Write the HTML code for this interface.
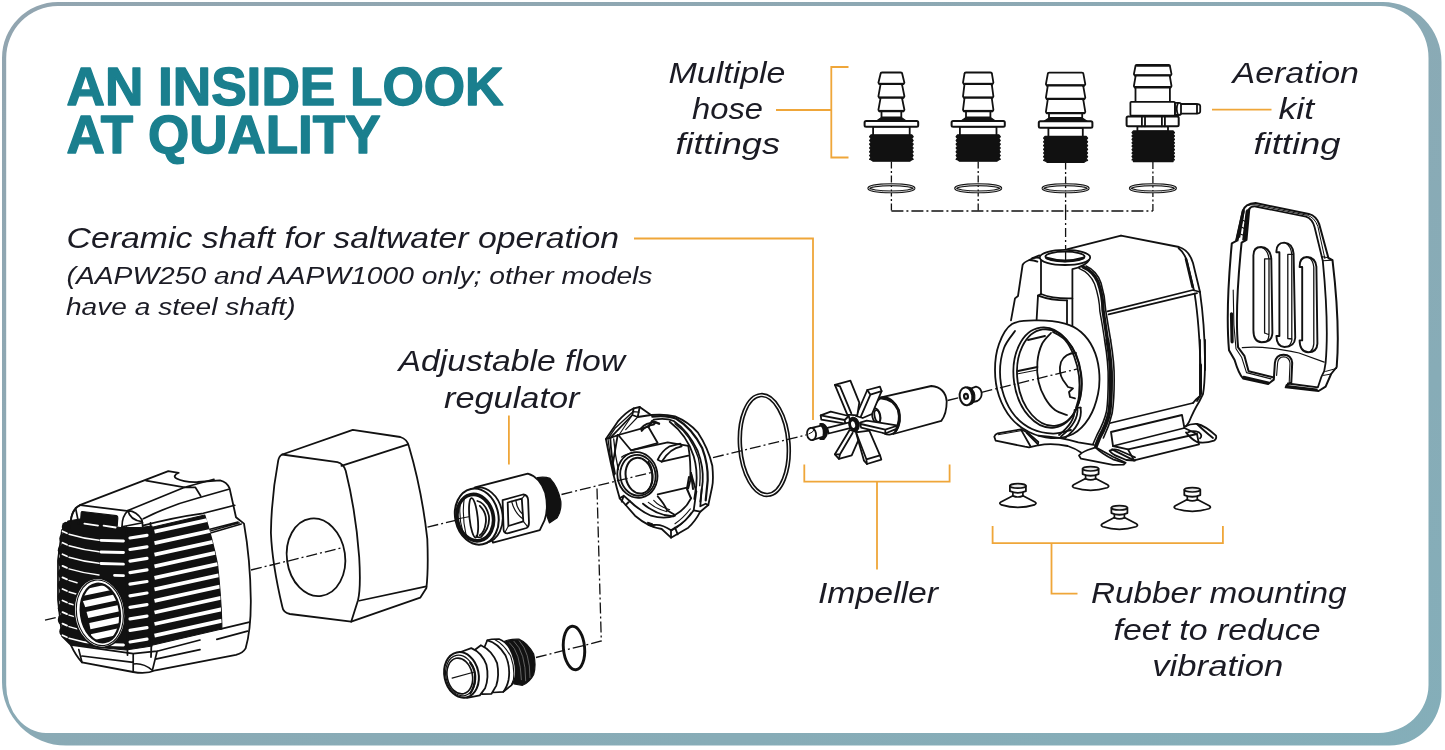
<!DOCTYPE html>
<html><head><meta charset="utf-8"><title>An Inside Look at Quality</title>
<style>
html,body{margin:0;padding:0;background:#fff;}
body{width:1445px;height:750px;overflow:hidden;font-family:"Liberation Sans",sans-serif;}
svg{display:block;position:absolute;left:0;top:0;will-change:transform;opacity:0.999;}
text{font-family:"Liberation Sans",sans-serif;}
.lbl{font-style:italic;fill:#1b1b24;}
.ttl{font-weight:bold;fill:#1a7f8e;}
.k{fill:none;stroke:#111;stroke-width:1.8;stroke-linecap:round;stroke-linejoin:round;}
.kw{fill:#fff;stroke:#111;stroke-width:1.8;stroke-linecap:round;stroke-linejoin:round;}
.kb{fill:#111;stroke:#111;stroke-width:1.2;stroke-linejoin:round;}
.o{fill:none;stroke:#efa639;stroke-width:1.8;}
.ax{fill:none;stroke:#111;stroke-width:1.3;stroke-dasharray:11 3 2 3;}
</style></head><body>
<svg width="1445" height="750" viewBox="0 0 1445 750">
<!-- frame -->
<defs>
<linearGradient id="fg" x1="0" y1="0" x2="1" y2="1"><stop offset="0" stop-color="#92a5b0"/><stop offset="0.5" stop-color="#8aaab5"/><stop offset="1" stop-color="#84aeb9"/></linearGradient>
</defs>
<rect x="0" y="0" width="1445" height="750" fill="#fff"/>
<path d="M58,2 H1383 A58.5,60 0 0 1 1441.5,62 V691.5 A52,54 0 0 1 1389.5,745.5 H66 A64,63.5 0 0 1 2,682 V58 A56,56 0 0 1 58,2 Z" fill="url(#fg)"/>
<path d="M58,6 H1380.5 A48,52 0 0 1 1428.5,58 V685 A50,48 0 0 1 1378.5,733 H46 A40,48 0 0 1 6.2,685 V58 A52,52 0 0 1 58,6 Z" fill="#fff"/>
<!-- text -->
<g class="ttl" font-size="54" stroke="#1a7f8e" stroke-width="1.4" stroke-linejoin="round">
<text x="66.5" y="104.5" textLength="437" lengthAdjust="spacingAndGlyphs">AN INSIDE LOOK</text>
<text x="66.5" y="152.6" textLength="314" lengthAdjust="spacingAndGlyphs">AT QUALITY</text>
</g>
<g class="lbl" font-size="29.7">
<text x="668.5" y="83" textLength="117" lengthAdjust="spacingAndGlyphs">Multiple</text>
<text x="692" y="119.3" textLength="71" lengthAdjust="spacingAndGlyphs">hose</text>
<text x="675.5" y="154.3" textLength="104.5" lengthAdjust="spacingAndGlyphs">fittings</text>
<text x="1232.5" y="83.3" textLength="126.5" lengthAdjust="spacingAndGlyphs">Aeration</text>
<text x="1278.5" y="119.3" textLength="35.5" lengthAdjust="spacingAndGlyphs">kit</text>
<text x="1253.5" y="154.3" textLength="87" lengthAdjust="spacingAndGlyphs">fitting</text>
<text x="66.5" y="248" textLength="552.5" lengthAdjust="spacingAndGlyphs">Ceramic shaft for saltwater operation</text>
<text x="398.5" y="371.3" textLength="226.5" lengthAdjust="spacingAndGlyphs">Adjustable flow</text>
<text x="444" y="407.5" textLength="135.5" lengthAdjust="spacingAndGlyphs">regulator</text>
<text x="818" y="603.4" textLength="120" lengthAdjust="spacingAndGlyphs">Impeller</text>
<text x="1091" y="603.4" textLength="255.5" lengthAdjust="spacingAndGlyphs">Rubber mounting</text>
<text x="1113.5" y="640" textLength="207" lengthAdjust="spacingAndGlyphs">feet to reduce</text>
<text x="1152.3" y="676.4" textLength="131" lengthAdjust="spacingAndGlyphs">vibration</text>
</g>
<g class="lbl" font-size="24.5">
<text x="66.5" y="284.2" textLength="586" lengthAdjust="spacingAndGlyphs">(AAPW250 and AAPW1000 only; other models</text>
<text x="66" y="314.6" textLength="229.5" lengthAdjust="spacingAndGlyphs">have a steel shaft)</text>
</g>
<!-- orange -->
<g class="o">
<path d="M776,110 H831.3 M848.5,67 H831.3 V157.5 H848.5"/>
<path d="M1212,109.6 H1271.5"/>
<path d="M634,238.5 H813 V420"/>
<path d="M508.9,415.5 V464.5"/>
<path d="M804.3,464.5 V481.7 H949.6 V464.5 M877,481.7 V569.5"/>
<path d="M992.6,526 V543.2 H1222.9 V526 M1051.5,543.2 V593.7 H1077.5"/>
</g>
<!-- fittings -->
<path class="ax" style="stroke-dasharray:7 2.5 2 2.5" d="M891.4,161.5 V211"/>
<path class="ax" style="stroke-dasharray:7 2.5 2 2.5" d="M978.2,161.5 V211"/>
<path class="ax" style="stroke-dasharray:7 2.5 2 2.5" d="M1065.6,162.5 V211"/>
<path class="ax" style="stroke-dasharray:7 2.5 2 2.5" d="M1152.9,162.0 V211"/>
<path class="ax" style="stroke-dasharray:12 3 2 3" d="M891.4,211 H1152.9"/>
<path class="ax" style="stroke-dasharray:9 3 2 3" d="M1065.6,211 V250"/>
<ellipse cx="891.4" cy="188.3" rx="22.6" ry="3.6" fill="none" stroke="#111" stroke-width="2.9"/><ellipse cx="891.4" cy="188.3" rx="22.6" ry="3.6" fill="none" stroke="#fff" stroke-width="0.8"/>
<ellipse cx="978.2" cy="188.3" rx="22.6" ry="3.6" fill="none" stroke="#111" stroke-width="2.9"/><ellipse cx="978.2" cy="188.3" rx="22.6" ry="3.6" fill="none" stroke="#fff" stroke-width="0.8"/>
<ellipse cx="1065.6" cy="188.3" rx="22.6" ry="3.6" fill="none" stroke="#111" stroke-width="2.9"/><ellipse cx="1065.6" cy="188.3" rx="22.6" ry="3.6" fill="none" stroke="#fff" stroke-width="0.8"/>
<ellipse cx="1152.9" cy="188.3" rx="22.6" ry="3.6" fill="none" stroke="#111" stroke-width="2.9"/><ellipse cx="1152.9" cy="188.3" rx="22.6" ry="3.6" fill="none" stroke="#fff" stroke-width="0.8"/>
<path class="kw" d="M880.6,73.7 Q880.6,72.5 882.1,72.5 H900.7 Q902.2,72.5 902.2,73.7 L904.4,82.7 L903.6,84.2 H879.2 L878.4,82.7 Z"/>
<path d="M878.9,83.9 H903.9" stroke="#111" stroke-width="2.2" fill="none"/>
<path class="kw" d="M880.6,84.2 Q880.6,84.2 882.1,84.2 H900.7 Q902.2,84.2 902.2,85.4 L904.4,96.3 L903.6,97.8 H879.2 L878.4,96.3 Z"/>
<path d="M878.9,97.5 H903.9" stroke="#111" stroke-width="2.2" fill="none"/>
<path class="kw" d="M880.6,97.8 Q880.6,97.8 882.1,97.8 H900.7 Q902.2,97.8 902.2,99.0 L904.4,109.8 L903.6,111.3 H879.2 L878.4,109.8 Z"/>
<path d="M878.9,111.0 H903.9" stroke="#111" stroke-width="2.2" fill="none"/>
<rect class="kw" x="881.5" y="111.3" width="19.8" height="6.2"/>
<path class="kb" d="M881.5,117.5 H901.3 L906.3,120.9 H876.5 Z"/>
<rect class="kw" x="873.1" y="126.7" width="36.6" height="9.1"/>
<rect x="864.6" y="120.9" width="53.6" height="5.8" rx="1.5" fill="#fff" stroke="#111" stroke-width="2"/>
<path class="kb" d="M911.8,134.8 L913.2,136.7 L911.8,138.6 L913.2,140.5 L911.8,142.3 L913.2,144.2 L911.8,146.1 L913.2,148.0 L911.8,149.9 L913.2,151.8 L911.8,153.7 L913.2,155.5 L911.8,157.4 L913.2,159.3 L911.8,159.7 L909.7,161.2 L873.1,161.2 L871.0,159.7 L869.6,159.3 L871.0,157.4 L869.6,155.5 L871.0,153.7 L869.6,151.8 L871.0,149.9 L869.6,148.0 L871.0,146.1 L869.6,144.2 L871.0,142.3 L869.6,140.5 L871.0,138.6 L869.6,136.7 L871.0,134.8Z"/>
<path class="kw" d="M964.5,73.7 Q964.5,72.5 966.0,72.5 H990.4 Q991.9,72.5 991.9,73.7 L993.4,82.7 L992.6,84.2 H963.8 L963.0,82.7 Z"/>
<path d="M963.5,83.9 H992.9" stroke="#111" stroke-width="2.2" fill="none"/>
<path class="kw" d="M964.5,84.2 Q964.5,84.2 966.0,84.2 H990.4 Q991.9,84.2 991.9,85.4 L993.4,96.3 L992.6,97.8 H963.8 L963.0,96.3 Z"/>
<path d="M963.5,97.5 H992.9" stroke="#111" stroke-width="2.2" fill="none"/>
<path class="kw" d="M964.5,97.8 Q964.5,97.8 966.0,97.8 H990.4 Q991.9,97.8 991.9,99.0 L993.4,109.8 L992.6,111.3 H963.8 L963.0,109.8 Z"/>
<path d="M963.5,111.0 H992.9" stroke="#111" stroke-width="2.2" fill="none"/>
<rect class="kw" x="966.0" y="111.3" width="24.4" height="6.2"/>
<path class="kb" d="M966.0,117.5 H990.4 L995.4,120.9 H961.0 Z"/>
<rect class="kw" x="959.9" y="126.7" width="36.6" height="9.1"/>
<rect x="951.6" y="120.9" width="53.2" height="5.8" rx="1.5" fill="#fff" stroke="#111" stroke-width="2"/>
<path class="kb" d="M998.9,134.8 L1000.3,136.7 L998.9,138.6 L1000.3,140.5 L998.9,142.3 L1000.3,144.2 L998.9,146.1 L1000.3,148.0 L998.9,149.9 L1000.3,151.8 L998.9,153.7 L1000.3,155.5 L998.9,157.4 L1000.3,159.3 L998.9,159.7 L996.8,161.2 L959.6,161.2 L957.5,159.7 L956.1,159.3 L957.5,157.4 L956.1,155.5 L957.5,153.7 L956.1,151.8 L957.5,149.9 L956.1,148.0 L957.5,146.1 L956.1,144.2 L957.5,142.3 L956.1,140.5 L957.5,138.6 L956.1,136.7 L957.5,134.8Z"/>
<path class="kw" d="M1047.8,73.8 Q1047.8,72.6 1049.3,72.6 H1081.9 Q1083.4,72.6 1083.4,73.8 L1085.3,84.2 L1084.5,85.7 H1046.7 L1045.9,84.2 Z"/>
<path d="M1046.4,85.4 H1084.8" stroke="#111" stroke-width="2.2" fill="none"/>
<path class="kw" d="M1047.8,85.7 Q1047.8,85.7 1049.3,85.7 H1081.9 Q1083.4,85.7 1083.4,86.9 L1085.3,97.7 L1084.5,99.2 H1046.7 L1045.9,97.7 Z"/>
<path d="M1046.4,98.9 H1084.8" stroke="#111" stroke-width="2.2" fill="none"/>
<path class="kw" d="M1047.8,99.2 Q1047.8,99.2 1049.3,99.2 H1081.9 Q1083.4,99.2 1083.4,100.4 L1085.3,111.8 L1084.5,113.3 H1046.7 L1045.9,111.8 Z"/>
<path d="M1046.4,113.0 H1084.8" stroke="#111" stroke-width="2.2" fill="none"/>
<rect class="kw" x="1049.0" y="113.3" width="33.2" height="4.7"/>
<path class="kb" d="M1049.0,118.0 H1082.2 L1087.2,121.2 H1044.0 Z"/>
<rect class="kw" x="1048.4" y="127.8" width="34.4" height="9.5"/>
<rect x="1038.8" y="121.2" width="53.6" height="6.6" rx="1.5" fill="#fff" stroke="#111" stroke-width="2"/>
<path class="kb" d="M1086.2,136.3 L1087.6,138.2 L1086.2,140.0 L1087.6,141.9 L1086.2,143.7 L1087.6,145.6 L1086.2,147.4 L1087.6,149.3 L1086.2,151.2 L1087.6,153.0 L1086.2,154.9 L1087.6,156.7 L1086.2,158.6 L1087.6,160.4 L1086.2,160.8 L1084.1,162.3 L1047.1,162.3 L1045.0,160.8 L1043.6,160.4 L1045.0,158.6 L1043.6,156.7 L1045.0,154.9 L1043.6,153.0 L1045.0,151.2 L1043.6,149.3 L1045.0,147.4 L1043.6,145.6 L1045.0,143.7 L1043.6,141.9 L1045.0,140.0 L1043.6,138.2 L1045.0,136.3Z"/>
<path class="kw" d="M1135.5,66.0 Q1135.5,65.0 1136.7,65.0 H1168.7 Q1169.9,65.0 1169.9,66.0 L1171.5,74.2 L1170.7,75.7 H1134.7 L1133.9,74.2 Z"/>
<path d="M1134.7,75.4 H1170.7" stroke="#111" stroke-width="2.2" fill="none"/>
<path class="kw" d="M1135.5,76.7 Q1135.5,75.7 1136.7,75.7 H1168.7 Q1169.9,75.7 1169.9,76.7 L1171.5,86.0 L1170.7,87.5 H1134.7 L1133.9,86.0 Z"/>
<path d="M1134.7,87.2 H1170.7" stroke="#111" stroke-width="2.2" fill="none"/>
<path d="M1136.2,65.6 H1169.2" stroke="#111" stroke-width="2.4" fill="none"/>
<rect class="kw" x="1135.5" y="87.5" width="34.4" height="14.5"/>
<path class="kw" d="M1174.9,104 H1196 Q1200.2,104 1200.2,106 V111.5 Q1200.2,113.6 1196,113.6 H1174.9 Z"/>
<path class="kw" d="M1174.9,102.8 H1179 Q1181,102.8 1181,104.5 V113.3 Q1181,115 1179,115 H1174.9Z"/>
<path class="k" d="M1197,104.3 V113.4"/>
<path class="k" d="M1178,103 Q1175.5,108.8 1178,114.8"/>
<rect x="1130.4" y="101.8" width="44.5" height="13.8" rx="1" fill="#fff" stroke="#111" stroke-width="1.8"/>
<rect class="kw" x="1137.4" y="126.3" width="30.6" height="5"/>
<rect x="1126.6" y="116.5" width="52.1" height="9.8" rx="1.5" fill="#fff" stroke="#111" stroke-width="2"/>
<path class="k" d="M1141.9,116.5 V126.3 M1145,116.5 V126.3 M1161.9,116.5 V126.3 M1164.9,116.5 V126.3"/>
<path class="kb" d="M1173.1,130.9 L1174.5,132.6 L1173.1,134.3 L1174.5,136.0 L1173.1,137.7 L1174.5,139.4 L1173.1,141.1 L1174.5,142.8 L1173.1,144.5 L1174.5,146.2 L1173.1,148.0 L1174.5,149.7 L1173.1,151.4 L1174.5,153.1 L1173.1,154.8 L1174.5,156.5 L1173.1,158.2 L1174.5,159.9 L1173.1,160.1 L1173.1,161.6 L1133.4,161.6 L1133.4,160.1 L1132.0,159.9 L1133.4,158.2 L1132.0,156.5 L1133.4,154.8 L1132.0,153.1 L1133.4,151.4 L1132.0,149.7 L1133.4,148.0 L1132.0,146.2 L1133.4,144.5 L1132.0,142.8 L1133.4,141.1 L1132.0,139.4 L1133.4,137.7 L1132.0,136.0 L1133.4,134.3 L1132.0,132.6 L1133.4,130.9Z"/>
<!-- pump -->
<path class="k" d="M1066.8,249.3 L1121,235.6"/>
<path class="k" d="M 1032.0,258.4 L 1039.4,255.4" />
<path class="k" d="M 1121.0,235.6 L 1179.0,247.0 Q 1189.0,250.0 1193.0,263.0 L 1200.0,292.0" />
<path class="k" d="M 1178.6,248.2 Q 1185.0,253.0 1187.4,263.0 L 1194.0,290.4" />
<path class="k" d="M 1186.0,259.0 L 1192.6,287.0" style="stroke-width:2.6"/>
<path class="k" d="M 1107.4,311.4 L 1193.0,290.0 L 1200.0,292.0" />
<path class="k" d="M 1108.6,314.4 L 1197.0,293.2" />
<path class="k" d="M 1200.0,292.4 Q 1204.6,324.0 1205.0,360.0 L 1205.0,370.0" />
<path class="k" d="M 1194.6,293.6 Q 1199.4,324.0 1200.6,370.0" />
<path class="k" d="M 1205.0,340.0 L 1205.0,366.0 Q 1204.6,386.0 1203.0,394.0 L 1199.0,402.0 Q 1194.0,410.0 1189.0,422.0 L 1186.0,426.4" />
<path class="k" d="M 1200.0,340.0 L 1200.0,396.0 L 1197.0,401.0" />
<path class="k" d="M 1200.6,365.0 L 1200.6,394.0" style="stroke-width:2.8"/>
<path class="k" d="M 1110.6,423.0 L 1193.0,403.0" />
<path class="k" d="M 1193.0,403.0 Q 1195.0,400.0 1200.0,396.0" />
<path class="k" d="M 1111.0,432.0 L 1182.0,415.0 L 1184.4,428.0 L 1113.0,446.0 Z" />
<path class="k" d="M 1113.0,446.0 L 1128.0,449.4 L 1197.0,434.0 L 1184.4,428.0" />
<path class="k" d="M 1112.0,449.4 L 1134.0,460.4 L 1199.0,444.4 L 1197.0,434.0" />
<path class="k" d="M 1128.0,449.4 L 1134.0,460.4" />
<path class="k" d="M 1185.0,426.4 Q 1191.0,423.6 1197.0,424.0 Q 1205.0,425.6 1216.0,435.6 Q 1217.0,439.0 1214.0,440.6 Q 1205.0,443.6 1197.0,442.0 Q 1191.0,439.0 1186.0,432.4" />
<path class="k" d="M 1188.0,432.4 Q 1193.0,430.0 1199.0,432.4 Q 1203.0,435.6 1200.0,438.4" />
<path class="k" d="M 1197.0,424.0 Q 1203.0,430.0 1213.0,438.0" />
<path class="k" d="M 1083.0,267.0 Q 1093.0,271.0 1098.0,282.0 Q 1103.0,296.0 1103.0,310.0 Q 1105.4,326.0 1107.4,340.0" style="stroke-width:3.4"/>
<path class="k" d="M 1086.0,266.0 Q 1097.0,271.0 1101.0,283.0 Q 1105.0,296.0 1105.6,309.6 Q 1108.2,326.0 1110.6,340.0" style="stroke-width:1.6"/>
<path class="k" d="M 1079.0,268.4 Q 1090.0,273.0 1094.6,284.0 Q 1099.4,298.0 1099.8,311.0 Q 1102.6,326.0 1104.6,340.0" style="stroke-width:1.4"/>
<path class="k" d="M 1107.4,340.0 Q 1111.4,364.0 1111.0,380.0 Q 1111.0,400.0 1109.4,412.0 Q 1107.0,424.0 1099.4,437.6 L 1096.0,446.0" style="stroke-width:4"/>
<path class="k" d="M 1104.6,340.0 Q 1108.6,364.0 1108.2,380.0 Q 1108.2,400.0 1106.6,411.0 Q 1104.2,422.0 1097.0,435.0 L 1093.0,444.0" style="stroke-width:1.6"/>
<path class="k" d="M 1110.6,340.0 Q 1114.6,364.0 1114.2,380.0 Q 1114.2,400.0 1112.2,413.0 Q 1109.4,426.0 1103.4,438.0" style="stroke-width:1.6"/>
<path class="k" d="M 1041.4,258.4 Q 1035.0,256.4 1029.4,260.0 Q 1024.0,262.0 1022.6,265.0 L 1018.0,296.0 L 1015.0,298.4 L 1011.0,320.4" />
<path class="k" d="M 1029.4,260.0 Q 1034.0,260.0 1037.4,261.6" />
<ellipse class="kw" cx="1065.0" cy="257.4" rx="25.2" ry="7.6" transform="rotate(0 1065.0 257.4)" />
<ellipse class="k" cx="1065.0" cy="256.6" rx="19.6" ry="5.0" transform="rotate(0 1065.0 256.6)" />
<path class="k" d="M 1046.6,258.0 Q 1065.0,263.6 1083.4,258.0" style="stroke-width:2.8"/>
<path class="k" d="M 1041.0,260.4 L 1041.0,294.4" />
<path class="k" d="M 1089.0,260.0 Q 1086.0,266.0 1072.4,269.2 L 1072.4,325.6" />
<path class="k" d="M 1041.0,294.0 Q 1053.0,299.0 1072.4,298.4" />
<path class="k" d="M 1038.0,295.6 Q 1051.0,300.4 1067.0,300.4" />
<path class="k" d="M 1038.0,295.6 L 1036.6,320.0" />
<path class="k" d="M 1067.0,300.4 L 1067.0,323.6" />
<path class="k" d="M 1041.0,294.0 L 1038.0,295.6" />
<path class="kw" d="M 1012.0,324.0 C 1005.7,327.9 1001.8,336.3 999.0,344.0 C 996.2,351.7 995.0,361.3 995.0,370.0 C 995.0,378.7 996.3,388.0 999.0,396.0 C 1001.7,404.0 1006.0,412.0 1011.0,418.0 C 1016.0,424.0 1022.3,428.7 1029.0,432.0 C 1035.7,435.3 1043.7,437.7 1051.0,438.0 C 1058.3,438.3 1066.7,437.3 1073.0,434.0 C 1079.3,430.7 1084.8,424.7 1089.0,418.0 C 1093.2,411.3 1096.3,402.0 1098.0,394.0 C 1099.7,386.0 1099.8,377.7 1099.0,370.0 C 1098.2,362.3 1096.0,354.3 1093.0,348.0 C 1090.0,341.7 1085.7,336.1 1081.0,332.0 C 1076.3,327.9 1072.3,325.5 1065.0,323.6 C 1057.7,321.7 1045.8,320.3 1037.0,320.4 C 1028.2,320.5 1018.3,320.1 1012.0,324.0 Z"/>
<path class="k" d="M 1015.0,331.0 C 1013.2,333.8 1006.5,341.2 1004.0,348.0 C 1001.5,354.8 1000.0,364.0 1000.0,372.0 C 1000.0,380.0 1001.5,388.7 1004.0,396.0 C 1006.5,403.3 1010.3,410.5 1015.0,416.0 C 1019.7,421.5 1025.7,426.1 1032.0,429.0 C 1038.3,431.9 1046.5,433.4 1053.0,433.6 C 1059.5,433.8 1068.0,430.6 1071.0,430.0" />
<ellipse class="k" cx="1047.4" cy="377.6" rx="33.6" ry="50.4" transform="rotate(-8 1047.4 377.6)" />
<ellipse class="k" cx="1049.4" cy="377.6" rx="32.0" ry="48.6" transform="rotate(-8 1049.4 377.6)" />
<path class="k" d="M 1051.0,333.0 C 1049.5,334.8 1044.3,339.2 1042.0,344.0 C 1039.7,348.8 1038.0,355.7 1037.4,362.0 C 1036.8,368.3 1037.3,376.0 1038.6,382.0 C 1039.9,388.0 1042.3,393.3 1045.0,398.0 C 1047.7,402.7 1051.3,407.2 1055.0,410.0 C 1058.7,412.8 1065.0,414.2 1067.0,415.0" />
<path class="k" d="M 1053.0,332.0 C 1055.0,333.3 1061.5,336.0 1065.0,340.0 C 1068.5,344.0 1071.7,350.0 1074.0,356.0 C 1076.3,362.0 1078.2,369.3 1079.0,376.0 C 1079.8,382.7 1079.5,390.7 1079.0,396.0 C 1078.5,401.3 1076.5,406.0 1076.0,408.0" />
<path class="k" d="M 1076.0,353.0 Q 1065.0,353.0 1061.0,362.0 Q 1058.0,372.0 1063.0,380.0 L 1068.0,387.0 L 1073.0,388.4 L 1069.0,392.0 L 1070.0,397.0 L 1075.0,398.4" />
<path class="k" d="M 1018.0,371.0 L 1037.4,367.0" />
<path class="k" d="M 1028.0,340.0 L 1045.0,336.0" />
<path class="k" d="M 1017.0,374.0 L 1037.4,370.0" style="stroke-width:1"/>
<path class="k" d="M 1077.4,407.6 Q 1079.0,422.0 1061.0,436.4" />
<path class="k" d="M 1080.6,407.6 Q 1083.0,424.0 1065.0,438.0" />
<path class="k" d="M 1077.4,407.6 L 1080.6,407.6" />
<path class="k" d="M 1074.6,410.0 Q 1075.0,422.0 1059.0,435.0" />
<path class="kw" d="M 994.3,436.7 Q 995.0,434.0 997.7,433.3 L 1021.0,429.3 L 1027.7,432.7 L 1038.3,442.0 L 1037.7,445.3 L 1029.0,447.3 L 1025.0,446.7 L 995.7,440.7 Z" />
<path class="k" d="M 1021.0,429.6 L 1030.3,446.0 M 1026.6,432.9 L 1037.3,443.6" />
<path class="k" d="M 998.3,434.7 L 1021.0,430.7" style="stroke-width:1"/>
<path class="k" d="M 1038.3,435.6 Q 1059.7,436.9 1078.3,442.3 L 1093.7,444.9" />
<path class="k" d="M 1038.3,445.3 Q 1051.7,442.7 1067.7,446.0 Q 1075.7,448.7 1081.0,452.4" />
<path class="kw" d="M 1079.0,455.6 Q 1081.0,452.7 1087.7,450.0 L 1095.7,447.3 L 1113.0,456.7 L 1125.7,462.7 L 1123.7,464.7 L 1113.0,464.9 L 1081.0,458.7 Z" />
<path class="k" d="M 1095.7,447.6 Q 1102.3,454.0 1113.0,459.3 L 1123.7,462.7" />
<path class="k" d="M 1109.7,450.7 Q 1113.0,448.7 1118.3,450.0 L 1130.3,455.3 L 1135.0,457.3" />
<path class="k" d="M 1109.7,450.7 Q 1111.7,454.0 1118.3,456.7 L 1126.3,460.0 L 1135.0,460.7" />
<!-- cover -->
<path class="kw" style="stroke-width:2" d="M1231.8,243.3 L1236.0,241.2 L1242.7,211.1 Q1245.1,203.7 1255.6,203.1 L1308.8,213.9 Q1316.5,216.0 1319.3,224.4 L1328.4,258.0 L1332.5,260.1 Q1340.2,325.0 1336.7,367.0 L1331.1,374.0 L1325.6,386.6 L1318.6,391.0 L1285.7,387.3 L1286.6,385.2 L1291.3,382.4 L1292.2,362.8 Q1291.3,354.7 1283.6,354.7 Q1275.9,354.7 1274.9,362.8 L1273.8,379.6 L1268.2,384.0 L1243.0,378.4 Q1238.8,374.0 1234.6,360.0 L1229.0,350.2 Q1225.5,311.0 1231.8,243.3 Z"/>
<path class="k" d="M1249.3,209.0 Q1250.7,206.2 1255.6,206.5 L1306.0,216.7 Q1312.3,218.8 1314.6,227.2 L1322.8,260.8 Q1329.0,325.0 1325.6,362.8 L1324.2,371.2 L1321.4,376.8 L1317.9,387.3 L1287.8,383.5"/>
<path class="k" style="stroke-width:2" d="M1249.3,209.0 L1246.5,239.8 L1241.6,242.6 Q1234.6,311.0 1238.1,347.4 L1244.4,355.8 L1248.6,371.2 L1273.8,377.5"/>
<path class="k" d="M 1243.7,211.8 L 1239.5,237.0 M 1246.5,211.1 L 1243.0,239.8 M 1248.6,209.7 L 1245.1,240.5" style="stroke-width:1.6"/>
<path class="k" d="M 1243.4,210.7 L 1237.1,240.1" style="stroke-width:3"/>
<path class="k" d="M 1247.5,210.4 L 1244.4,239.8" style="stroke-width:2.4"/>
<path class="k" d="M 1243.0,220.2 L 1247.9,223.0 M 1241.9,227.2 L 1246.9,230.0 M 1240.9,234.2 L 1246.1,236.3" style="stroke-width:1.2"/>
<path class="k" d="M 1247.2,205.5 Q 1250.0,204.5 1255.6,204.8 L 1307.4,215.3 Q 1314.6,217.4 1317.9,226.5 L 1324.9,258.7" style="stroke-width:1"/>
<path class="k" d="M 1322.8,260.8 L 1332.5,260.1 M 1321.4,256.6 L 1328.6,257.7" style="stroke-width:1.1"/>
<path class="k" d="M 1231.5,313.8 L 1232.1,341.8" style="stroke-width:3.2"/>
<path class="k" d="M 1233.2,290.0 L 1233.9,325.0 L 1236.0,348.8 L 1241.6,357.2 L 1246.5,372.6 L 1271.0,378.9" style="stroke-width:1.1"/>
<path class="k" d="M 1336.7,368.4 L 1325.6,371.4 M 1331.1,374.0 L 1323.5,375.4" style="stroke-width:1"/>
<path class="k" d="M 1242.3,347.7 Q 1264.0,345.3 1299.0,353.0 L 1324.2,362.1" style="stroke-width:1.2"/>
<path class="k" d="M 1276.6,375.4 L 1277.6,363.0 Q 1278.3,356.9 1283.6,356.9 Q 1289.2,356.9 1290.0,363.0 L 1289.2,383.1" style="stroke-width:1.1"/>
<path class="k" d="M 1243.7,377.0 L 1268.2,382.6 M 1287.1,386.3 L 1316.5,389.6" style="stroke-width:2.4"/>
<path class="k" style="stroke-width:1.9" d="M1253.4,330 L1253.4,255.5 Q1253.4,247 1261,247 Q1270,247.5 1271.3,258.5 L1272.4,333 Q1272,342.2 1261.5,342.2 Q1253.4,342 1253.4,330 Z"/>
<path class="k" style="stroke-width:1.3" d="M1264.6,258.8 H1270.8 M1264.6,258.8 V333 M1269,259 V333.5 Q1269,339 1266.5,341.5 M1264.6,333 L1268.5,334.5 M1262,247.5 Q1268,250 1269,259"/>
<path class="k" style="stroke-width:1.9" d="M1279.4,336 V252.2 H1276.4 Q1276,243 1284.2,242.6 Q1292.5,243 1293.6,253.6 L1295.2,338 Q1294.5,347 1284.4,347 Q1276.6,346.5 1276.4,336 H1279.4"/>
<path class="k" style="stroke-width:1.3" d="M1287.8,254.4 H1293.4 M1287.8,254.4 V338.5 M1291.8,254.4 V338.5 M1287.8,338.5 L1292,339 Q1291.5,344 1288,346.5 M1285.5,243 Q1291,246 1291.8,254.4"/>
<path class="k" style="stroke-width:1.9" d="M1302.2,340.4 V267 H1299.6 Q1299.4,257.3 1306.8,257 Q1315.5,257.5 1316.4,266.6 L1317.4,343.6 Q1317,352.2 1308.2,352.2 Q1299.8,351.6 1299.6,340.4 H1302.2"/>
<path class="k" style="stroke-width:1.3" d="M1313.8,267 V344 Q1313.4,349 1310.5,351.6 M1308.5,257.3 Q1313,259.5 1313.8,267"/>
<!-- cups -->
<path class="kw" style="stroke-width:1.7" d="M1012.4,495.9 L1000.9,501.9 Q998.4,503.5 1001.4,504.9 Q1017.9,509.9 1034.4,504.9 Q1037.4,503.5 1034.9,501.9 L1023.4,495.9 Z"/>
<path class="kw" style="stroke-width:1.7" d="M1012.9,491.4 V495.9 Q1017.9,498.1 1022.9,495.9 V491.4 Z"/>
<path class="kw" style="stroke-width:1.8" d="M1009.9,485.9 V491.2 Q1017.9,494.5 1025.9,491.2 V485.9 Z"/>
<ellipse cx="1017.9" cy="485.9" rx="8" ry="2.2" fill="#e8e8e8" stroke="#111" stroke-width="1.7"/>
<path class="kw" style="stroke-width:1.7" d="M1085.1,478.8 L1073.6,484.8 Q1071.1,486.4 1074.1,487.8 Q1090.6,492.8 1107.1,487.8 Q1110.1,486.4 1107.6,484.8 L1096.1,478.8 Z"/>
<path class="kw" style="stroke-width:1.7" d="M1085.6,474.3 V478.8 Q1090.6,481.0 1095.6,478.8 V474.3 Z"/>
<path class="kw" style="stroke-width:1.8" d="M1082.6,468.8 V474.1 Q1090.6,477.4 1098.6,474.1 V468.8 Z"/>
<ellipse cx="1090.6" cy="468.8" rx="8" ry="2.2" fill="#e8e8e8" stroke="#111" stroke-width="1.7"/>
<path class="kw" style="stroke-width:1.7" d="M1113.9,517.8 L1102.4,523.8 Q1099.9,525.4 1102.9,526.8 Q1119.4,531.8 1135.9,526.8 Q1138.9,525.4 1136.4,523.8 L1124.9,517.8 Z"/>
<path class="kw" style="stroke-width:1.7" d="M1114.4,513.3 V517.8 Q1119.4,520.0 1124.4,517.8 V513.3 Z"/>
<path class="kw" style="stroke-width:1.8" d="M1111.4,507.8 V513.1 Q1119.4,516.4 1127.4,513.1 V507.8 Z"/>
<ellipse cx="1119.4" cy="507.8" rx="8" ry="2.2" fill="#e8e8e8" stroke="#111" stroke-width="1.7"/>
<path class="kw" style="stroke-width:1.7" d="M1186.8,499.8 L1175.3,505.8 Q1172.8,507.4 1175.8,508.8 Q1192.3,513.8 1208.8,508.8 Q1211.8,507.4 1209.3,505.8 L1197.8,499.8 Z"/>
<path class="kw" style="stroke-width:1.7" d="M1187.3,495.3 V499.8 Q1192.3,502.0 1197.3,499.8 V495.3 Z"/>
<path class="kw" style="stroke-width:1.8" d="M1184.3,489.8 V495.1 Q1192.3,498.4 1200.3,495.1 V489.8 Z"/>
<ellipse cx="1192.3" cy="489.8" rx="8" ry="2.2" fill="#e8e8e8" stroke="#111" stroke-width="1.7"/>
<!-- impeller -->
<ellipse cx="764.3" cy="445" rx="24.3" ry="50" transform="rotate(-4 764.3 445)" fill="none" stroke="#111" stroke-width="4.5"/>
<ellipse cx="764.3" cy="445" rx="24.3" ry="50" transform="rotate(-4 764.3 445)" fill="none" stroke="#fff" stroke-width="1.2"/>
<path class="kw" d="M 880.0,397.6 L 931.3,386.0 Q 945.3,387.3 946.7,401.3 Q 946.7,414.0 941.3,420.9 L 893.3,434.0 Z" />
<ellipse class="kw" cx="886.7" cy="416.0" rx="12.7" ry="18.9" transform="rotate(-12 886.7 416.0)" />
<path class="k" d="M 881.6,398.0 Q 893.3,398.7 898.4,410.0 Q 901.3,420.7 895.7,430.7" style="stroke-width:3"/>
<ellipse class="kw" cx="876.3" cy="416.0" rx="4.0" ry="7.7" transform="rotate(-12 876.3 416.0)" />
<ellipse class="k" cx="877.3" cy="416.0" rx="2.7" ry="6.0" transform="rotate(-12 877.3 416.0)" />
<path class="kw" d="M 971.3,388.3 L 976.0,386.7 Q 981.2,388.0 981.7,393.3 Q 981.7,398.7 977.3,401.0 L 972.7,402.1 Z" />
<ellipse class="kb" cx="968.5" cy="396.0" rx="6.3" ry="9.0" transform="rotate(-8 968.5 396.0)" />
<ellipse class="kw" cx="966.0" cy="396.3" rx="6.3" ry="9.0" transform="rotate(-8 966.0 396.3)" style="stroke-width:2"/>
<ellipse class="k" cx="966.0" cy="396.3" rx="1.9" ry="2.5" transform="rotate(-8 966.0 396.3)" style="stroke-width:2.2"/>
<path class="kw" d="M 867.3,390.0 L 880.0,386.7 L 881.6,391.1 L 872.0,414.0 L 862.7,418.0 L 856.0,416.0 Z" />
<path class="k" d="M 867.3,390.0 L 870.4,394.7 L 881.6,391.1 M 870.4,394.7 L 860.7,416.9" />
<path class="kw" d="M 834.9,384.9 L 850.4,380.7 L 859.3,402.7 L 857.3,415.3 L 847.3,414.7 Z" />
<path class="k" d="M 840.0,386.3 L 851.3,413.3 M 834.9,384.9 L 840.0,386.3" />
<path class="kw" d="M 820.7,415.3 L 830.7,411.6 L 848.7,416.0 L 850.7,422.7 L 845.3,423.6 L 821.3,419.6 Z" />
<path class="k" d="M 820.7,415.3 L 844.7,420.0 L 845.3,423.6 M 844.7,420.0 L 848.7,416.0" />
<path class="kw" d="M 860.0,422.7 L 866.7,420.7 L 896.7,425.3 L 896.3,428.9 L 885.3,433.5 L 861.1,427.6 Z" />
<path class="k" d="M 896.3,426.0 L 885.3,429.7 L 885.3,433.5 M 885.3,429.7 L 860.7,424.0" />
<path class="kw" d="M 849.6,430.0 L 859.3,432.7 L 858.7,439.3 L 851.7,455.3 L 838.9,458.8 L 834.9,454.3 Z" />
<path class="k" d="M 838.9,458.8 L 840.0,454.3 L 852.7,432.7 M 840.0,454.3 L 834.9,454.3" />
<path class="kw" d="M 856.0,432.4 L 869.3,430.7 L 880.0,455.3 L 881.3,459.6 L 866.9,464.0 L 864.0,460.7 Z" />
<path class="k" d="M 866.9,464.0 L 866.4,459.3 L 856.7,434.0 M 866.4,459.3 L 880.0,455.3" />
<path class="kw" d="M 827.3,427.9 L 853.3,421.5 L 854.0,427.1 L 828.7,433.5 Z" />
<path class="kb" d="M 820.0,423.6 Q 825.3,422.7 827.3,428.7 Q 828.3,435.3 824.0,439.3 L 820.0,439.3 Z" />
<path class="kw" d="M 810.7,428.1 L 821.3,425.7 Q 824.7,428.7 823.3,436.7 L 812.7,440.0 Z" />
<ellipse class="kw" cx="811.5" cy="434.0" rx="4.5" ry="6.1" transform="rotate(-10 811.5 434.0)" />
<path class="k" d="M 808.8,434.0 Q 813.3,432.7 814.7,428.7" style="stroke-width:1"/>
<ellipse class="kb" cx="854.0" cy="424.4" rx="5.1" ry="7.2" transform="rotate(-12 854.0 424.4)" />
<ellipse class="kw" cx="853.1" cy="424.7" rx="2.9" ry="4.3" transform="rotate(-12 853.1 424.7)" />
<!-- volute -->
<path class="kw" d="M 605.9,439.0 L 617.7,421.7 Q 625.7,412.3 633.7,408.3 L 639.7,407.0 L 651.0,415.0 Q 664.3,413.7 675.0,416.3 Q 688.3,421.7 697.7,432.3 Q 708.3,448.3 712.3,465.7 Q 713.7,480.3 712.1,487.0 L 708.3,505.0 L 700.3,511.7 Q 695.0,521.7 688.3,527.7 L 671.0,537.7 L 661.7,529.0 Q 648.3,527.0 635.0,515.7 L 625.7,505.0 L 619.7,498.3 Q 613.7,477.7 608.3,451.0 Z" style="stroke-width:1.8"/>
<path class="k" d="M 653.7,419.7 Q 665.7,417.7 673.7,421.0 Q 688.3,431.0 697.7,451.0 Q 703.7,467.0 702.7,481.7 L 700.3,501.7" />
<path class="k" d="M 669.7,421.7 Q 687.0,435.0 693.7,456.3 Q 697.7,469.7 696.3,485.7 L 694.3,499.0" />
<path class="k" d="M 652.3,416.6 Q 667.0,415.0 676.3,418.7 Q 692.3,428.3 702.3,448.3 Q 708.3,464.3 707.7,480.3 L 705.7,500.3" style="stroke-width:2.2"/>
<path class="k" d="M 610.3,437.9 L 632.3,415.0 L 637.7,417.0 L 651.0,415.0 M 632.3,415.0 L 633.7,408.3 M 637.7,417.0 L 639.7,407.0" />
<path class="k" d="M 610.3,437.9 L 605.9,439.0 M 610.3,437.9 Q 611.0,455.0 615.0,473.7 L 613.7,475.0" />
<path class="k" d="M 617.7,435.0 L 612.3,467.0 M 618.3,435.0 L 610.3,437.9" />
<path class="k" d="M 632.3,415.0 L 619.0,435.0 M 637.7,417.0 L 625.7,429.7" style="stroke-width:1.1"/>
<path class="k" d="M 618.3,435.0 L 648.3,426.7 L 657.7,443.0 L 631.0,450.3 Z" />
<path class="k" d="M 641.7,431.0 Q 645.7,425.7 653.7,424.6 L 655.7,422.3 Q 645.7,422.3 641.0,428.3 Z" />
<path class="k" d="M 648.3,426.7 L 652.3,421.0 M 652.3,421.0 L 659.0,423.7" style="stroke-width:2.4"/>
<path class="k" d="M 631.0,450.3 L 667.7,442.3 L 688.3,445.9" />
<path class="k" d="M 657.7,459.7 Q 661.7,451.0 669.7,446.3 L 680.3,443.7 L 681.7,446.3 Q 669.7,448.3 661.7,461.7 Z" />
<path class="k" d="M 661.7,461.7 L 688.3,455.7" />
<path class="k" d="M 688.3,445.9 Q 691.0,461.7 690.3,480.3 L 688.3,488.3" />
<ellipse class="kw" cx="637.4" cy="475.0" rx="20.0" ry="22.9" transform="rotate(-10 637.4 475.0)" style="stroke-width:1.8"/>
<ellipse class="k" cx="637.9" cy="475.3" rx="17.6" ry="20.5" transform="rotate(-10 637.9 475.3)" />
<ellipse class="k" cx="639.0" cy="475.7" rx="13.3" ry="18.0" transform="rotate(-10 639.0 475.7)" style="stroke-width:2"/>
<path class="k" d="M 648.3,461.7 Q 653.7,469.7 652.3,480.3 Q 651.0,487.0 648.3,489.7" />
<path class="k" d="M 657.7,494.3 L 687.0,487.7" />
<path class="k" d="M 619.7,498.3 L 623.7,495.7 L 629.7,501.0 L 625.7,505.0 M 623.7,495.7 L 621.7,501.7" />
<path class="k" d="M 629.7,501.0 Q 639.0,510.3 651.0,515.7 Q 664.3,519.7 675.0,515.7" />
<path class="k" d="M 643.0,503.7 Q 652.3,511.7 664.3,515.0 L 673.7,516.3" />
<path class="k" d="M 648.3,502.3 Q 656.3,509.0 667.0,511.7 M 653.7,500.3 Q 659.0,506.3 669.7,509.7" style="stroke-width:1.1"/>
<path class="k" d="M 657.7,496.3 Q 664.3,503.7 667.0,510.3 L 675.0,515.0 Q 685.7,509.0 691.0,498.3" />
<path class="kb" d="M 647.7,522.3 L 652.3,523.7 L 653.7,527.0 L 648.3,525.0 Z" />
<path class="k" d="M 653.7,525.0 Q 661.7,523.7 671.0,530.3 L 675.0,527.7 Q 685.7,522.3 693.7,510.3 L 696.3,491.7" />
<path class="k" d="M 671.0,530.3 L 671.0,537.7 M 675.0,527.7 L 677.7,534.3" />
<path class="k" d="M 693.7,510.3 L 700.3,511.7 M 696.3,491.7 L 691.0,473.0 M 700.3,506.3 L 705.7,503.7 L 708.3,505.0 M 701.7,489.0 L 700.3,506.3" />
<path class="k" d="M 691.0,473.0 L 693.0,489.0 M 689.0,477.0 L 687.0,489.0 L 691.0,498.3" style="stroke-width:2"/>
<path class="k" d="M 672.3,530.3 Q 683.0,525.0 691.0,513.0 M 675.0,523.7 Q 683.0,518.3 690.3,509.0" style="stroke-width:1.2"/>
<path class="k" d="M 608.1,438.7 L 615.0,428.3 L 633.0,411.7 L 639.0,412.1" style="stroke-width:1.3"/>
<path class="k" d="M 608.1,439.7 Q 609.7,457.7 614.3,474.3" style="stroke-width:1.3"/>
<path class="k" d="M 613.7,439.0 Q 615.0,455.0 618.3,469.7" style="stroke-width:1.3"/>
<path class="k" d="M 675.0,423.7 Q 691.0,435.0 698.3,457.7 Q 701.0,469.7 699.7,485.7" style="stroke-width:1.3"/>
<path class="k" d="M 621.7,457.0 Q 625.7,453.7 635.0,452.3" style="stroke-width:1.3"/>
<!-- regulator -->
<path class="kb" d="M 537.4,477.6 Q 544.6,476.4 550.0,478.4 Q 557.8,486.6 560.8,501.0 Q 561.7,510.6 557.2,517.8 L 549.4,522.9 Q 541.0,501.0 537.4,477.6 Z" />
<path class="kw" d="M 475.0,487.4 L 527.8,473.6 Q 539.8,477.0 545.2,492.6 Q 548.8,508.2 544.6,520.2 L 539.8,530.1 L 493.0,542.7 Z" style="stroke-width:1.8"/>
<ellipse class="kw" cx="481.0" cy="515.2" rx="21.4" ry="28.0" transform="rotate(-12 481.0 515.2)" />
<ellipse class="kw" cx="476.8" cy="516.6" rx="21.6" ry="28.3" transform="rotate(-12 476.8 516.6)" style="stroke-width:2"/>
<ellipse class="k" cx="475.3" cy="517.6" rx="18.0" ry="23.4" transform="rotate(-12 475.3 517.6)" style="stroke-width:3.6"/>
<ellipse class="kw" cx="473.6" cy="517.8" rx="4.1" ry="19.8" transform="rotate(-6 473.6 517.8)" />
<path class="k" d="M 477.4,501.0 Q 485.8,503.4 488.8,515.4 Q 490.6,527.4 481.0,537.0 Q 477.4,538.2 476.5,535.8" />
<path class="k" d="M 479.8,505.8 Q 487.0,513.0 485.8,522.6 Q 484.6,532.2 479.8,535.2" />
<path class="k" d="M 460.6,501.0 Q 458.2,516.6 463.0,532.2 M 464.2,498.6 Q 461.8,516.6 466.0,534.6" style="stroke-width:1.1"/>
<path class="k" d="M 457.0,519.0 L 469.6,516.6" style="stroke-width:1"/>
<path class="k" d="M 502.6,500.1 L 523.0,494.5 Q 527.8,495.0 528.1,499.8 L 529.0,522.6 Q 529.0,526.8 526.6,528.0 L 507.4,533.4 Q 503.8,533.4 503.6,529.8 Z" style="stroke-width:1.8"/>
<path class="k" d="M 507.7,502.5 L 521.8,498.6 L 523.3,521.4 L 508.4,526.0 Z" />
<path class="k" d="M 523.3,521.4 L 527.8,526.8 M 508.4,526.0 L 505.0,532.2 M 521.8,498.6 L 524.8,495.3" style="stroke-width:1.1"/>
<path class="k" d="M 511.6,501.3 Q 514.6,513.0 522.4,518.4 M 515.8,500.4 Q 517.0,509.4 522.8,514.2" style="stroke-width:1.2"/>
<!-- barb -->
<path class="kb" d="M 503.3,641.9 Q 509.7,638.7 519.3,639.2 Q 527.8,642.9 533.7,654.1 Q 536.4,664.8 533.7,674.4 Q 530.0,681.9 522.5,685.3 L 514.0,684.0 Q 520.4,662.7 503.3,641.9 Z" />
<path class="k" d="M 509.7,642.9 Q 520.4,652.0 521.4,679.7 M 514.0,641.3 Q 525.7,652.0 525.7,680.8 M 519.3,640.8 Q 530.0,652.0 530.0,677.6" style="stroke:#777;stroke-width:0.8"/>
<path class="kw" d="M 484.6,646.9 L 487.3,640.3 Q 490.5,639.0 499.0,639.0 Q 505.4,641.3 509.7,648.3 Q 516.6,661.1 515.6,675.5 Q 514.5,681.9 511.3,685.3 L 503.3,691.9 L 493.1,692.5 Z" style="stroke-width:1.7"/>
<path class="k" d="M 487.3,640.3 Q 497.9,642.9 505.4,655.2 Q 510.7,666.9 508.6,679.7 Q 507.0,687.2 503.3,691.7" />
<path class="k" d="M 494.7,639.4 Q 504.3,644.5 510.7,656.3 Q 515.0,668.0 513.4,679.7 L 511.3,685.1" style="stroke-width:1.1"/>
<path class="kw" d="M 475.0,649.7 L 480.9,645.2 Q 492.1,650.4 497.1,663.2 Q 499.5,675.5 496.3,685.6 L 491.5,693.8 L 481.9,694.1 Z" style="stroke-width:1.8"/>
<path class="kw" d="M 460.6,652.0 L 471.3,648.1 Q 481.9,652.5 486.4,664.8 Q 489.2,677.6 485.1,688.3 L 479.8,695.4 L 467.0,697.9 Z" style="stroke-width:1.8"/>
<ellipse class="kw" cx="461.5" cy="674.9" rx="17.1" ry="23.0" transform="rotate(-12 461.5 674.9)" style="stroke-width:2"/>
<ellipse class="k" cx="460.6" cy="675.5" rx="14.7" ry="20.5" transform="rotate(-12 460.6 675.5)" style="stroke-width:1.2"/>
<ellipse class="k" cx="459.8" cy="676.0" rx="12.6" ry="18.1" transform="rotate(-12 459.8 676.0)" style="stroke-width:1.6"/>
<path class="k" d="M 470.2,662.7 Q 476.1,670.1 475.0,679.7 Q 473.9,688.3 470.2,693.6" style="stroke-width:2.2"/>
<path class="k" d="M 452.1,678.1 L 473.4,672.3" style="stroke-width:1.1"/>
<ellipse cx="574" cy="648" rx="10.6" ry="21.8" transform="rotate(-5 574 648)" fill="none" stroke="#111" stroke-width="2.9"/>
<!-- filter -->
<path class="kw" d="M 282.2,454.5 L 352.8,429.9 L 400.3,437.0 Q 407.1,439.1 408.9,446.2 Q 421.8,489.8 427.3,538.8 Q 428.5,569.5 426.4,587.9 L 420.2,597.7 L 351.2,621.7 L 289.9,614.0 Q 283.1,612.5 282.2,606.3 Q 272.1,563.4 270.9,532.7 Q 271.5,495.9 278.2,460.6 Q 279.1,456.0 282.2,454.5 Z" style="stroke-width:1.8"/>
<path class="k" d="M 282.2,454.5 L 337.4,462.1 Q 343.6,463.7 345.7,470.7 Q 355.8,511.2 359.2,557.2 Q 361.0,587.9 358.0,600.2 L 351.2,621.7" style="stroke-width:1.8"/>
<path class="k" d="M 341.4,465.8 L 408.0,444.4" style="stroke-width:1.8"/>
<path class="k" d="M 359.2,600.8 L 426.4,586.4" style="stroke-width:1.6"/>
<ellipse class="k" cx="316.0" cy="557.2" rx="29.1" ry="39.0" transform="rotate(-8 316.0 557.2)" style="stroke-width:1.8"/>
<!-- grille -->
<path class="kw" style="stroke-width:1.8" d="M70.8,520.8 Q72,509 80.4,504.8 L168.3,471.2 L178.7,472.8 Q172,476 176.5,478.5 Q184,482.5 197.6,482 L220,480.4 Q227,482 229.6,488.4 L236,517.2 L244,523.6 Q250.4,560 250.8,600 Q251,630 245.6,648.4 Q243,653 236,654.8 L155.5,670.3 Q146,674.5 133.2,672 L82,662.3 Q76,656 70.8,644.8 L62,636 L58,600 L58,560 L62,530 Z"/>
<path class="kb" d="M68,521 L80,519 L120,527.5 L140,527.5 L152,526 L152,646 L126,650 L72,645 L63,636 L60,600 L60,560 L63.5,530 Z"/>
<ellipse cx="66.0" cy="527.0" rx="4.2" ry="5.2" fill="#111"/>
<ellipse cx="63.5" cy="538.6" rx="4.2" ry="5.2" fill="#111"/>
<ellipse cx="62.0" cy="550.2" rx="4.2" ry="5.2" fill="#111"/>
<ellipse cx="62.0" cy="561.8" rx="4.2" ry="5.2" fill="#111"/>
<ellipse cx="62.0" cy="573.4" rx="4.2" ry="5.2" fill="#111"/>
<ellipse cx="62.0" cy="585.0" rx="4.2" ry="5.2" fill="#111"/>
<ellipse cx="62.0" cy="596.6" rx="4.2" ry="5.2" fill="#111"/>
<ellipse cx="62.0" cy="608.2" rx="4.2" ry="5.2" fill="#111"/>
<ellipse cx="62.0" cy="619.8" rx="4.2" ry="5.2" fill="#111"/>
<ellipse cx="63.5" cy="631.4" rx="4.2" ry="5.2" fill="#111"/>
<path class="kb" d="M151,527.5 L204.7,515 Q212.2,538 217.5,564 Q221,596 221.8,624 L221.8,629 L153,645 L151,645 Z"/>
<clipPath id="sideclip"><path d="M153.8,520 L204.7,512 Q212.2,538 217.5,564 Q221,596 221.8,628 L221,640 L153.8,660 Z"/></clipPath>
<g clip-path="url(#sideclip)" stroke="#fff" stroke-width="3.8" stroke-linecap="butt" fill="none">
<path d="M154.5,531.6 L222,516.8"/>
<path d="M154.5,543.2 L222,528.3"/>
<path d="M154.5,554.7 L222,539.9"/>
<path d="M154.5,566.3 L222,551.4"/>
<path d="M154.5,577.8 L222,563.0"/>
<path d="M154.5,589.4 L222,574.5"/>
<path d="M154.5,600.9 L222,586.1"/>
<path d="M154.5,612.5 L222,597.6"/>
<path d="M154.5,624.0 L222,609.2"/>
<path d="M154.5,635.6 L222,620.7"/>
</g>
<g stroke="#fff" stroke-width="3.2" stroke-linecap="round" fill="none">
<path d="M130,538.0 L147,535.3"/>
<path d="M101,540.4 L123.5,541.0" stroke-width="2.8"/>
<path d="M62.5,531.2 L67,533.2" stroke-width="1.8"/>
<path d="M99,540.2 Q84,538.7 69,534.2" stroke-width="1.5" stroke="#fff"/>
<path d="M130,549.5 L147,546.8"/>
<path d="M101,552.0 L123.5,552.5" stroke-width="2.8"/>
<path d="M62.5,542.8 L67,544.8" stroke-width="1.8"/>
<path d="M99,551.8 Q84,550.2 69,545.8" stroke-width="1.5" stroke="#fff"/>
<path d="M130,561.1 L147,558.4"/>
<path d="M101,563.5 L123.5,564.1" stroke-width="2.8"/>
<path d="M62.5,554.3 L67,556.3" stroke-width="1.8"/>
<path d="M99,563.3 Q84,561.8 69,557.3" stroke-width="1.5" stroke="#fff"/>
<path d="M130,572.6 L147,569.9"/>
<path d="M114.5,575.4 L123.5,575.6" stroke-width="2.8"/>
<path d="M62.5,565.9 L67,567.9" stroke-width="1.8"/>
<path d="M99,574.9 Q84,573.4 69,568.9" stroke-width="1.5" stroke="#fff"/>
<path d="M130,584.2 L147,581.5"/>
<path d="M62.5,577.4 L67,579.4" stroke-width="1.8"/>
<path d="M77,582.7 L69,580.4" stroke-width="1.5" stroke="#fff"/>
<path d="M130,595.8 L147,593.0"/>
<path d="M62.5,589.0 L67,591.0" stroke-width="1.8"/>
<path d="M77,594.2 L69,592.0" stroke-width="1.5" stroke="#fff"/>
<path d="M130,607.3 L147,604.6"/>
<path d="M62.5,600.5 L67,602.5" stroke-width="1.8"/>
<path d="M77,605.8 L69,603.5" stroke-width="1.5" stroke="#fff"/>
<path d="M130,618.9 L147,616.1"/>
<path d="M62.5,612.1 L67,614.1" stroke-width="1.8"/>
<path d="M77,617.4 L69,615.1" stroke-width="1.5" stroke="#fff"/>
<path d="M130,630.4 L147,627.7"/>
<path d="M62.5,623.6 L67,625.6" stroke-width="1.8"/>
<path d="M77,628.9 L69,626.6" stroke-width="1.5" stroke="#fff"/>
<path d="M130,642.0 L147,639.2"/>
<path d="M101,644.4 L123.5,645.0" stroke-width="2.8"/>
<path d="M62.5,635.2 L67,637.2" stroke-width="1.8"/>
<path d="M99,644.2 Q84,642.7 69,638.2" stroke-width="1.5" stroke="#fff"/>
</g>
<path class="k" style="stroke-width:1.8" d="M126.3,527 L127.5,655 M150.5,523 Q153,600 151,657"/>
<path class="k" d="M 146.0,480.7 L 184.7,487.3 L 195.3,487.3 L 200.7,496.0 M 184.7,487.3 L 214.0,479.3" style="stroke-width:1.7"/>
<path class="k" d="M 127.3,510.7 L 184.7,487.3 M 143.3,518.7 Q 170.0,505.3 198.0,498.0 L 228.7,489.3" style="stroke-width:1.7"/>
<path class="k" d="M 142.7,525.6 Q 174.0,517.3 203.3,513.3 L 234.7,505.3" style="stroke-width:1.7"/>
<path class="k" d="M 122.0,526.7 Q 122.0,516.0 128.0,510.7 Q 136.7,511.3 142.0,520.0 L 142.8,526.7 M 128.0,510.7 Q 130.0,520.0 142.0,521.6" style="stroke-width:1.7"/>
<path class="k" d="M 80.4,505.1 L 126.8,510.9" style="stroke-width:1.8"/>
<path class="k" d="M 70.8,520.8 Q 72.4,508.0 80.4,505.1 M 75.6,508.0 L 78.8,524.0" style="stroke-width:1.7"/>
<path class="k" d="M 122.0,526.7 L 142.7,522.7" style="stroke-width:1.5"/>
<path class="kb" d="M 82.0,511.5 L 116.4,515.7 Q 118.0,516.0 117.8,517.9 L 117.2,525.9 L 82.8,522.1 Q 80.4,521.6 80.7,519.2 L 81.2,512.8 Q 81.3,511.5 82.0,511.5 Z" />
<path class="k" d="M 84.4,523.6 L 98.0,525.6 M 103.6,525.6 L 115.6,527.5" style="stroke:#fff;stroke-width:1.8"/>
<path class="k" d="M 210.0,529.3 L 238.0,522.0 M 211.3,532.7 L 241.3,524.0 M 210.7,530.9 L 239.3,522.9" style="stroke-width:1.5"/>
<path class="k" d="M 220.0,629.2 L 249.4,622.2 M 216.8,639.4 L 247.5,631.1" style="stroke-width:1.7"/>
<path class="k" d="M 70.8,644.8 L 133.2,653.6 L 157.1,651.2 L 200.0,640.0 M 82.0,662.4 L 78.8,649.6 M 133.2,653.6 L 133.2,671.9 M 157.1,651.2 L 152.4,670.3 M 133.2,664.0 Q 142.8,662.4 152.4,670.3 M 82.0,656.0 L 133.2,662.4 M 155.5,659.2 L 200.0,649.6" style="stroke-width:1.7"/>
<ellipse cx="99.6" cy="612.8" rx="25.2" ry="34.8" transform="rotate(-8 99.6 612.8)" fill="#fff" stroke="#111" stroke-width="1.6"/>
<clipPath id="ringclip"><ellipse cx="100.4" cy="613" rx="19.5" ry="29.5" transform="rotate(-8 100.4 613)"/></clipPath>
<ellipse cx="99.8" cy="612.8" rx="23.3" ry="33" transform="rotate(-8 99.8 612.8)" fill="none" stroke="#111" stroke-width="1.1"/>
<g clip-path="url(#ringclip)">
<rect x="70" y="570" width="60" height="90" fill="#fff"/>
<path d="M78,576.4 L125,566.4" stroke="#111" stroke-width="5" fill="none"/>
<path d="M78,588.0 L125,578.0" stroke="#111" stroke-width="5" fill="none"/>
<path d="M78,599.6 L125,589.6" stroke="#111" stroke-width="5" fill="none"/>
<path d="M78,611.2 L125,601.2" stroke="#111" stroke-width="5" fill="none"/>
<path d="M78,622.8 L125,612.8" stroke="#111" stroke-width="5" fill="none"/>
<path d="M78,634.4 L125,624.4" stroke="#111" stroke-width="5" fill="none"/>
<path d="M78,646.0 L125,636.0" stroke="#111" stroke-width="5" fill="none"/>
<path d="M78,657.6 L125,647.6" stroke="#111" stroke-width="5" fill="none"/>
<path d="M70,575 Q92,610 92,650 L70,650 Z" fill="#111"/>
</g>
<ellipse cx="100.4" cy="613" rx="19.5" ry="29.5" transform="rotate(-8 100.4 613)" fill="none" stroke="#111" stroke-width="2.2"/>
<!-- axis2 -->
<path class="ax" d="M45,620.1 L60,616.5"/>
<path class="ax" d="M251,570.0 L343,547.6"/>
<path class="ax" d="M427.5,527.1 L457.5,519.8"/>
<path class="ax" d="M561.5,494.5 L652,472.4"/>
<path class="ax" d="M713,457.6 L806,435.0"/>
<path class="ax" d="M947.5,400.5 L960.5,397.4"/>
<path class="ax" d="M981.5,392.3 L1077.5,368.9"/>
<path class="ax" d="M597,488.5 L601.3,641 L535.5,657.6"/>
<path class="ax" style="stroke-dasharray:none" d="M1065.6,251 V260"/>
</svg>
</body></html>
